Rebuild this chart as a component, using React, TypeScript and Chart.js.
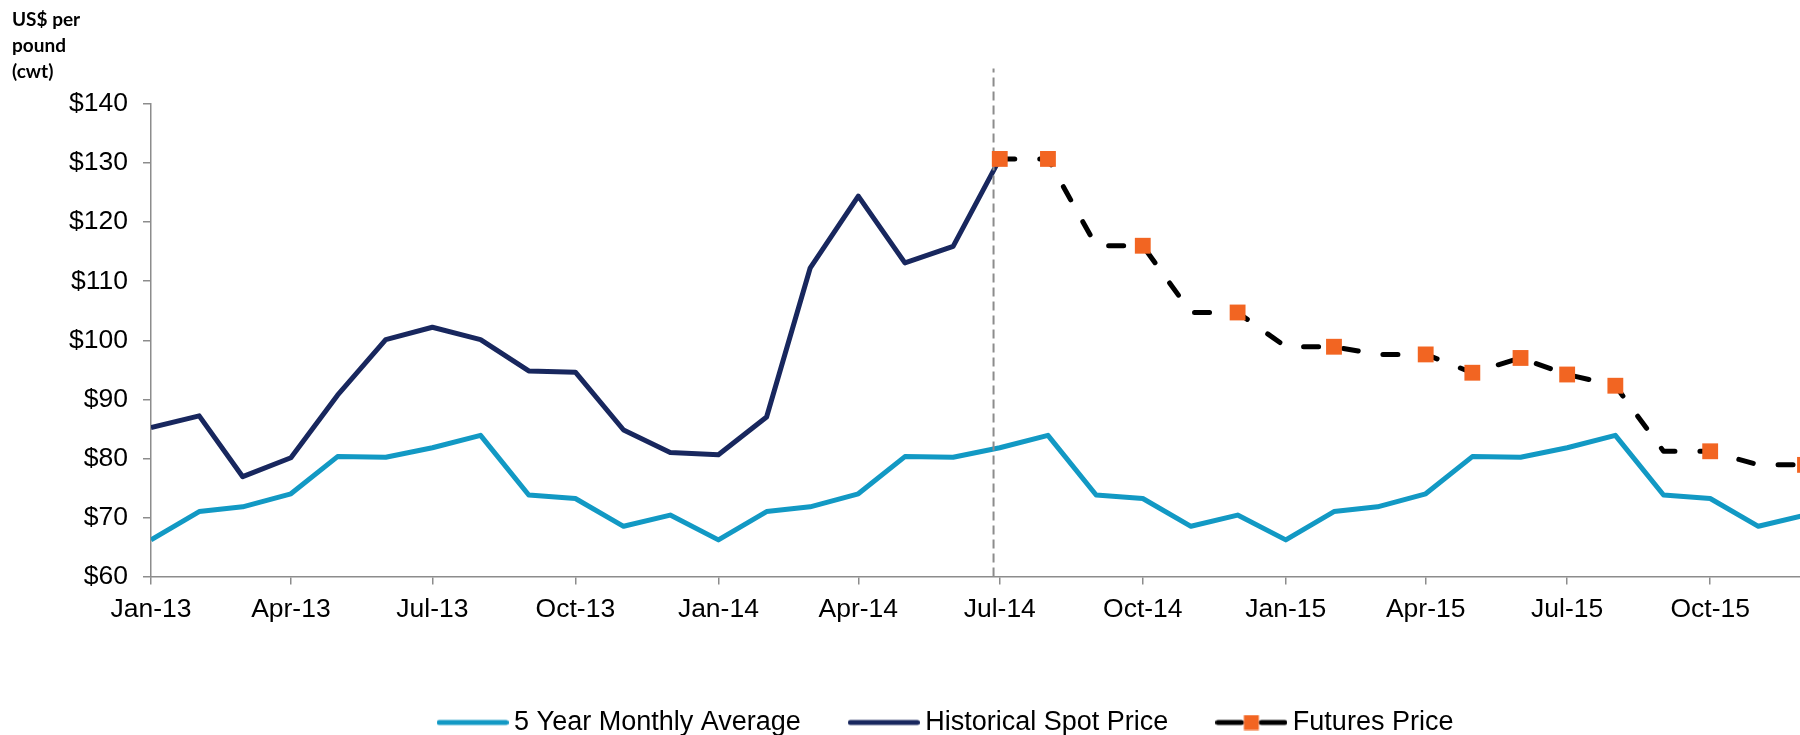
import React, { useEffect, useRef } from "react";
import { Chart, registerables } from "chart.js";

Chart.register(...registerables);

// ---------- data ----------
const MONTHS = [
  "Jan-13", "Feb-13", "Mar-13", "Apr-13", "May-13", "Jun-13", "Jul-13", "Aug-13", "Sep-13", "Oct-13", "Nov-13", "Dec-13",
  "Jan-14", "Feb-14", "Mar-14", "Apr-14", "May-14", "Jun-14", "Jul-14", "Aug-14", "Sep-14", "Oct-14", "Nov-14", "Dec-14",
  "Jan-15", "Feb-15", "Mar-15", "Apr-15", "May-15", "Jun-15", "Jul-15", "Aug-15", "Sep-15", "Oct-15", "Nov-15", "Dec-15",
];

const AVG_5YR = [
  66.2, 71.0, 71.8, 74.0, 80.3, 80.2, 81.8, 83.9, 73.8, 73.2, 68.5, 70.4,
  66.2, 71.0, 71.8, 74.0, 80.3, 80.2, 81.8, 83.9, 73.8, 73.2, 68.5, 70.4,
  66.2, 71.0, 71.8, 74.0, 80.3, 80.2, 81.8, 83.9, 73.8, 73.2, 68.5, 70.4,
];

const SPOT_MONTHS = MONTHS.slice(0, 19);
const SPOT = [
  85.2, 87.2, 76.9, 80.1, 90.7, 100.1, 102.2, 100.1, 94.8, 94.6, 84.8, 81.0,
  80.6, 87.0, 112.2, 124.4, 113.1, 115.9, 130.7,
];

const FUTURES_MONTHS = MONTHS.slice(18);
const FUTURES = [
  130.7, 130.7, 116.0, 116.0, 104.7, 104.7, 98.9, 98.9, 97.6, 97.6, 94.5, 97.0,
  94.2, 92.3, 81.2, 81.2, 78.9, 78.9,
];
const FUTURES_MARKED = [
  true, true, false, true, false, true, false, true, false, true, true, true,
  true, true, false, true, false, true,
];

const X_TICK_LABELS = [
  "Jan-13", "Apr-13", "Jul-13", "Oct-13", "Jan-14", "Apr-14", "Jul-14", "Oct-14",
  "Jan-15", "Apr-15", "Jul-15", "Oct-15",
];
const Y_TICKS = [60, 70, 80, 90, 100, 110, 120, 130, 140];

const DIVIDER_DATE = "2014-06-27";
const DIVIDER_RANGE = [60, 146];

const SERIES_NAMES = ["5 Year Monthly Average", "Historical Spot Price", "Futures Price"];
const AXIS_TITLE = ["US$ per", "pound", "(cwt)"];

// ---------- helpers ----------
const MON = ["Jan", "Feb", "Mar", "Apr", "May", "Jun", "Jul", "Aug", "Sep", "Oct", "Nov", "Dec"];
const ORIGIN = Date.UTC(2013, 0, 1);
const dayOf = (label: string) => {
  const m = MON.indexOf(label.slice(0, 3));
  const y = 2000 + parseInt(label.slice(4), 10);
  return (Date.UTC(y, m, 1) - ORIGIN) / 86400000;
};
const dayOfIso = (iso: string) => {
  const [y, m, d] = iso.split("-").map((s) => parseInt(s, 10));
  return (Date.UTC(y, m - 1, d) - ORIGIN) / 86400000;
};

const C_AVG = "#1299c4";
const C_SPOT = "#18275e";
const C_FUT = "#000000";
const C_MARK = "#f26522";
const C_AXIS = "#8c8c8c";
const FONT = "'Liberation Sans', Arial, sans-serif";

const W = 1832;
const H = 735;
const PAD_LEFT = 66;
const PLOT_LEFT = 151;
const PLOT_RIGHT = 1805;

function lineSample(color: string) {
  const c = document.createElement("canvas");
  c.width = 72;
  c.height = 8;
  const g = c.getContext("2d")!;
  g.strokeStyle = color;
  g.lineWidth = 5;
  g.lineCap = "round";
  g.beginPath();
  g.moveTo(2.5, 4);
  g.lineTo(69.5, 4);
  g.stroke();
  return c;
}

function futuresSample() {
  const c = document.createElement("canvas");
  c.width = 72;
  c.height = 16;
  const g = c.getContext("2d")!;
  g.strokeStyle = C_FUT;
  g.lineWidth = 5;
  g.lineCap = "round";
  g.beginPath();
  g.moveTo(2.5, 8);
  g.lineTo(26, 8);
  g.moveTo(46, 8);
  g.lineTo(69.5, 8);
  g.stroke();
  g.fillStyle = C_MARK;
  g.fillRect(28.5, 0.5, 15, 15);
  return c;
}

export default function App() {
  const ref = useRef<HTMLCanvasElement | null>(null);

  useEffect(() => {
    if (!ref.current) return;
    const samples = [lineSample(C_AVG), lineSample(C_SPOT), futuresSample()];
    const dDay = dayOfIso(DIVIDER_DATE);

    const axisGrid = {
      display: true,
      drawOnChartArea: false,
      drawTicks: true,
      tickLength: 8,
      color: C_AXIS,
      lineWidth: 1.5,
    };

    const chart = new Chart(ref.current, {
      type: "line",
      data: {
        datasets: [
          {
            label: SERIES_NAMES[0],
            data: MONTHS.map((m, i) => ({ x: dayOf(m), y: AVG_5YR[i] })),
            borderColor: C_AVG,
            backgroundColor: C_AVG,
            borderWidth: 5,
            borderJoinStyle: "round",
            pointRadius: 0,
            order: 4,
          },
          {
            label: SERIES_NAMES[1],
            data: SPOT_MONTHS.map((m, i) => ({ x: dayOf(m), y: SPOT[i] })),
            borderColor: C_SPOT,
            backgroundColor: C_SPOT,
            borderWidth: 5,
            borderJoinStyle: "round",
            pointRadius: 0,
            order: 3,
          },
          {
            label: "divider",
            data: DIVIDER_RANGE.map((v) => ({ x: dDay, y: v })),
            borderColor: C_AXIS,
            borderWidth: 2,
            borderDash: [9, 5],
            pointRadius: 0,
            clip: false,
            order: 2,
          },
          {
            label: SERIES_NAMES[2],
            data: FUTURES_MONTHS.map((m, i) => ({ x: dayOf(m), y: FUTURES[i] })),
            borderColor: C_FUT,
            backgroundColor: C_MARK,
            borderWidth: 5,
            borderDash: [15, 25],
            borderCapStyle: "round",
            borderJoinStyle: "round",
            pointStyle: "rect",
            pointRadius: FUTURES_MARKED.map((m) => (m ? 11.2 : 0)),
            pointBackgroundColor: C_MARK,
            pointBorderColor: C_MARK,
            pointBorderWidth: 0,
            clip: false,
            order: 1,
          },
        ] as any,
      },
      options: {
        responsive: false,
        animation: false,
        layout: { padding: { left: PAD_LEFT, right: 0, top: 104, bottom: -11 } },
        plugins: {
          tooltip: { enabled: false },
          title: { display: false },
          legend: {
            display: true,
            position: "bottom",
            labels: {
              font: { family: FONT, size: 27 },
              color: "#000",
              usePointStyle: true,
              pointStyleWidth: 56,
              padding: 55,
              generateLabels: () =>
                SERIES_NAMES.map((name, i) => ({
                  text: name,
                  pointStyle: samples[i] as any,
                  fillStyle: "transparent",
                  strokeStyle: "transparent",
                  lineWidth: 0,
                  hidden: false,
                  datasetIndex: i,
                })),
            },
          },
        },
        scales: {
          x: {
            type: "linear",
            min: 0,
            max: dayOf(MONTHS[MONTHS.length - 1]),
            afterBuildTicks: (scale: any) => {
              scale.ticks = X_TICK_LABELS.map((l) => ({ value: dayOf(l) }));
            },
            afterFit: (scale: any) => {
              scale.height = 77.5;
            },
            ticks: {
              autoSkip: false,
              maxRotation: 0,
              padding: 9,
              color: "#000",
              font: { family: FONT, size: 26.5 },
              callback: (_v: any, i: number) => X_TICK_LABELS[i],
            },
            grid: axisGrid,
            border: { display: true, color: C_AXIS, width: 1.5 },
          },
          y: {
            type: "linear",
            position: "left",
            min: Y_TICKS[0],
            max: Y_TICKS[Y_TICKS.length - 1],
            afterBuildTicks: (scale: any) => {
              scale.ticks = Y_TICKS.map((v) => ({ value: v }));
            },
            afterFit: (scale: any) => {
              scale.width = PLOT_LEFT - PAD_LEFT;
            },
            ticks: {
              padding: 15,
              color: "#000",
              font: { family: FONT, size: 26.5 },
              callback: (v: any) => "$" + v,
            },
            grid: axisGrid,
            border: { display: true, color: C_AXIS, width: 1.5 },
          },
          yRightSpace: {
            type: "linear",
            position: "right",
            display: true,
            min: Y_TICKS[0],
            max: Y_TICKS[Y_TICKS.length - 1],
            ticks: { display: false },
            grid: { display: false, drawTicks: false },
            border: { display: false },
            afterFit: (scale: any) => {
              scale.width = W - PLOT_RIGHT;
            },
          },
        },
      },
    });
    return () => chart.destroy();
  }, []);

  return (
    <div
      style={{
        position: "fixed",
        left: 0,
        top: 0,
        width: 1800,
        height: H,
        overflow: "hidden",
        background: "#fff",
      }}
    >
      <canvas ref={ref} width={W} height={H} style={{ position: "absolute", left: 0, top: 0, width: W, height: H }} />
      <div
        style={{
          position: "absolute",
          left: 12,
          top: 6,
          fontFamily: "Lato, 'Open Sans', sans-serif",
          fontWeight: 700,
          fontSize: 19,
          lineHeight: "26px",
          color: "#000",
        }}
      >
        {AXIS_TITLE.map((t, i) => (
          <div key={i}>{t}</div>
        ))}
      </div>
    </div>
  );
}
